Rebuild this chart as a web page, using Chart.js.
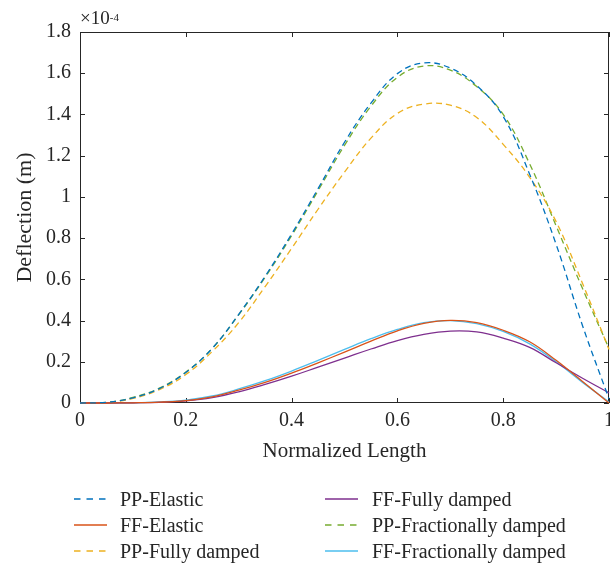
<!DOCTYPE html>
<html>
<head>
<meta charset="utf-8">
<script src="https://cdn.jsdelivr.net/npm/chart.js@4.4.1/dist/chart.umd.min.js"></script>
<style>
  html, body { margin: 0; padding: 0; background: #fff; }
  #wrap { position: relative; width: 610px; height: 566px; font-family: 'Liberation Serif', 'DejaVu Serif', serif; color: #262626; }
  #c { position: absolute; left: 0; top: 0; }
  #exp { position: absolute; left: 80px; top: 9px; font-size: 19px; line-height: 18px; white-space: nowrap; }
  #exp sup { font-size: 11px; position: relative; top: -1px; vertical-align: top; }
  .lg { position: absolute; height: 20px; line-height: 20px; font-size: 20px; white-space: nowrap; }
  .lg svg { position: absolute; left: 0; top: 8px; }
  .lg span { position: absolute; top: 0; }
</style>
</head>
<body>
<div id="wrap">
  <canvas id="c" width="610" height="566"></canvas>
  <div id="exp"></div>
  <div id="legend"></div>
</div>
<script>
// ---- data ----
const xValues = [0, 0.05, 0.1, 0.15, 0.2, 0.25, 0.3, 0.35, 0.4, 0.45, 0.5, 0.55, 0.6, 0.65, 0.7, 0.75, 0.8, 0.85, 0.9, 0.95, 1];
const seriesNames = ['PP-Elastic', 'FF-Elastic', 'PP-Fully damped', 'FF-Fully damped', 'PP-Fractionally damped', 'FF-Fractionally damped'];
const ppElastic      = [0, 0.003, 0.025, 0.07, 0.148, 0.265, 0.43, 0.615, 0.82, 1.04, 1.265, 1.455, 1.598, 1.65, 1.625, 1.54, 1.39, 1.11, 0.77, 0.375, 0.02];
const ffElastic      = [0, 0, 0.001, 0.004, 0.012, 0.03, 0.062, 0.1, 0.145, 0.195, 0.247, 0.3, 0.35, 0.386, 0.401, 0.39, 0.353, 0.297, 0.207, 0.104, 0];
const ppFullyDamped  = [0, 0.002, 0.022, 0.065, 0.138, 0.25, 0.39, 0.565, 0.75, 0.94, 1.12, 1.285, 1.405, 1.45, 1.445, 1.385, 1.255, 1.095, 0.88, 0.58, 0.26];
const ffFullyDamped  = [0, 0, 0.001, 0.003, 0.01, 0.026, 0.054, 0.09, 0.13, 0.174, 0.218, 0.262, 0.303, 0.333, 0.349, 0.345, 0.315, 0.27, 0.195, 0.12, 0.049];
const ppFractional   = [0, 0.003, 0.027, 0.072, 0.15, 0.265, 0.428, 0.61, 0.812, 1.03, 1.25, 1.44, 1.58, 1.635, 1.615, 1.535, 1.40, 1.16, 0.86, 0.555, 0.265];
const ffFractional   = [0, 0, 0.001, 0.005, 0.014, 0.034, 0.068, 0.108, 0.155, 0.207, 0.26, 0.312, 0.357, 0.39, 0.4, 0.385, 0.347, 0.287, 0.2, 0.1, 0.005];
const xTickValues = [0, 0.2, 0.4, 0.6, 0.8, 1];
const xTickLabels = ['0', '0.2', '0.4', '0.6', '0.8', '1'];
const yTickValues = [0, 0.2, 0.4, 0.6, 0.8, 1, 1.2, 1.4, 1.6, 1.8];
const yTickLabels = ['0', '0.2', '0.4', '0.6', '0.8', '1', '1.2', '1.4', '1.6', '1.8'];
const xTitle = 'Normalized Length';
const yTitle = 'Deflection (m)';
const exponentBase = '×10';
const exponentPower = '-4';

// ---- styles ----
const seriesData = [ppElastic, ffElastic, ppFullyDamped, ffFullyDamped, ppFractional, ffFractional];
const seriesColors = ['#0072BD', '#D95319', '#EDB120', '#7E2F8E', '#77AC30', '#4DBEEE'];
const seriesDashed = [true, false, true, false, true, false];
const FONT = "'Liberation Serif', 'DejaVu Serif', serif";
const TEXT = '#262626';

const datasets = seriesNames.map((name, i) => ({
  label: name,
  data: xValues.map((x, j) => ({ x: x, y: seriesData[i][j] })),
  borderColor: seriesColors[i],
  backgroundColor: seriesColors[i],
  borderWidth: 1.3,
  borderDash: seriesDashed[i] ? [6, 4] : [],
  pointRadius: 0,
  fill: false,
  tension: 0.4,
  clip: 3
}));

const boxPlugin = {
  id: 'boxTicks',
  beforeDatasetsDraw(chart) {
    const { ctx, chartArea: { left, right, top, bottom }, scales: { x, y } } = chart;
    ctx.save();
    ctx.strokeStyle = TEXT;
    ctx.lineWidth = 1;
    ctx.strokeRect(left + 0.5, top + 0.5, right - left - 1, bottom - top - 1);
    ctx.beginPath();
    xTickValues.forEach(v => {
      const px = Math.round(x.getPixelForValue(v)) + 0.5;
      ctx.moveTo(px, bottom); ctx.lineTo(px, bottom - 5);
      ctx.moveTo(px, top); ctx.lineTo(px, top + 5);
    });
    yTickValues.forEach(v => {
      const py = Math.round(y.getPixelForValue(v)) + 0.5;
      ctx.moveTo(left, py); ctx.lineTo(left + 5, py);
      ctx.moveTo(right, py); ctx.lineTo(right - 5, py);
    });
    ctx.stroke();
    ctx.restore();
  }
};

new Chart(document.getElementById('c'), {
  type: 'line',
  data: { datasets: datasets },
  plugins: [boxPlugin],
  options: {
    responsive: false,
    devicePixelRatio: 1,
    animation: false,
    events: [],
    layout: { padding: { top: 32, right: 1, bottom: 99, left: 0 } },
    plugins: { legend: { display: false }, tooltip: { enabled: false }, title: { display: false } },
    scales: {
      x: {
        type: 'linear', min: 0, max: 1,
        grid: { display: false, drawTicks: false },
        border: { display: false },
        afterBuildTicks: s => { s.ticks = xTickValues.map(v => ({ value: v })); },
        afterFit: s => { s.height = 64; s.paddingLeft = 0; s.paddingRight = 0; },
        ticks: { padding: 6, color: TEXT, font: { family: FONT, size: 20 }, maxRotation: 0, autoSkip: false,
                 callback: (v, i) => xTickLabels[i] },
        title: { display: true, text: xTitle, color: TEXT, font: { family: FONT, size: 21 }, padding: { top: 0, bottom: 3 } }
      },
      y: {
        type: 'linear', min: 0, max: 1.8,
        grid: { display: false, drawTicks: false },
        border: { display: false },
        afterBuildTicks: s => { s.ticks = yTickValues.map(v => ({ value: v })); },
        afterFit: s => { s.width = 80; s.paddingTop = 0; s.paddingBottom = 0; },
        ticks: { padding: 9, color: TEXT, font: { family: FONT, size: 20 }, autoSkip: false,
                 callback: (v, i) => yTickLabels[i] },
        title: { display: true, text: yTitle, color: TEXT, font: { family: FONT, size: 22 }, padding: { top: 12, bottom: 0 } }
      }
    }
  }
});

// exponent label
document.getElementById('exp').innerHTML = exponentBase + '<sup>' + exponentPower + '</sup>';

// legend (two columns, column-major like the original)
const legendCols = [{ line: 74, text: 120 }, { line: 325, text: 372 }];
const legendRows = [489, 515, 541];
const legendEl = document.getElementById('legend');
seriesNames.forEach((name, i) => {
  const col = legendCols[Math.floor(i / 3)];
  const row = legendRows[i % 3];
  const d = document.createElement('div');
  d.className = 'lg';
  d.style.left = col.line + 'px';
  d.style.top = row + 'px';
  const len = 33;
  const dash = seriesDashed[i] ? 'stroke-dasharray="6.5,6"' : '';
  d.innerHTML = '<svg width="' + len + '" height="4"><line x1="0" y1="2" x2="' + len + '" y2="2" stroke="' + seriesColors[i] + '" stroke-width="1.4" ' + dash + '/></svg>' +
    '<span style="left:' + (col.text - col.line) + 'px">' + name + '</span>';
  legendEl.appendChild(d);
});
</script>
</body>
</html>
